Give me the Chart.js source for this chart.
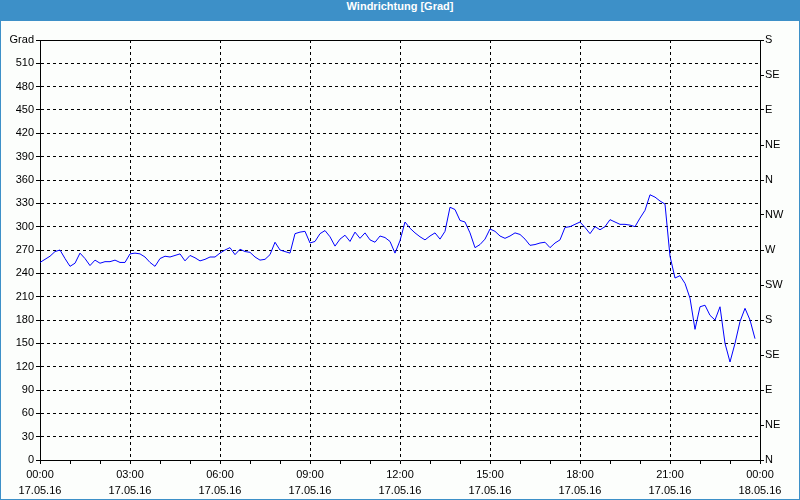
<!DOCTYPE html>
<html>
<head>
<meta charset="utf-8">
<script src="https://cdn.jsdelivr.net/npm/chart.js@4/dist/chart.umd.min.js"></script>
<style>
  html, body { margin: 0; padding: 0; background: #fff; }
  #frame { position: relative; width: 800px; height: 500px; background: #3d90c8; overflow: hidden; }
  #title { position: absolute; left: 0; top: 0; width: 800px; height: 21px; line-height: 20px; text-align: center;
           color: #fff; font: bold 11px "Liberation Sans", Arial, sans-serif; }
  #body { position: absolute; left: 1px; top: 21px; width: 798px; height: 478px; background: #fcfefc; }
  canvas { display: block; }
</style>
</head>
<body>
<div id="frame">
  <div id="title">Windrichtung [Grad]</div>
  <div id="body"><canvas id="c" width="798" height="478"></canvas></div>
</div>
<script>
// Sampling interval in minutes (one reading every 10 minutes from 17.05.16 00:00)
const intervalMinutes = 10;
// Wind direction readings [Grad]
const windDirection = [
  254, 258, 262, 268, 270, 259, 249, 253, 266, 259,
  250, 257, 253, 255, 255, 257, 254, 254, 265, 266,
  265, 261, 254, 249, 259, 262, 261, 263, 265, 256,
  263, 260, 256, 258, 261, 261, 266, 270, 273, 264,
  271, 268, 267, 261, 257, 258, 264, 280, 270, 268,
  266, 291, 293, 294, 279, 281, 291, 295, 287, 275,
  284, 289, 281, 293, 285, 292, 283, 280, 288, 286,
  281, 266, 282, 306, 298, 292, 287, 283, 288, 292,
  284, 294, 325, 322, 308, 306, 292, 273, 277, 284,
  297, 294, 288, 285, 288, 292, 290, 284, 276, 277,
  279, 280, 273, 279, 283, 299, 300, 303, 306, 299,
  291, 300, 296, 300, 309, 306, 303, 303, 302, 300,
  311, 321, 341, 338, 333, 329, 262, 234, 237, 227,
  208, 168, 197, 199, 186, 180, 197, 150, 126, 150,
  178, 195, 180, 156
];
// X axis tick labels (every 3 hours)
const timeLabels = ['00:00', '03:00', '06:00', '09:00', '12:00', '15:00', '18:00', '21:00', '00:00'];
const dateLabels = ['17.05.16', '17.05.16', '17.05.16', '17.05.16', '17.05.16', '17.05.16', '17.05.16', '17.05.16', '18.05.16'];
// Right axis compass labels (every 45 Grad from 0 to 540)
const compassLabels = ['N', 'NE', 'E', 'SE', 'S', 'SW', 'W', 'NW', 'N', 'NE', 'E', 'SE', 'S'];
const leftUnitLabel = 'Grad';

const points = windDirection.map((v, i) => ({ x: i * intervalMinutes, y: v }));
const FONT = { family: '"Liberation Sans Narrow", "Liberation Sans", Arial, sans-serif', size: 11 };
const XFONT = { family: '"Liberation Sans Narrow", "Liberation Sans", Arial, sans-serif', size: 11, lineHeight: 1.45 };

new Chart(document.getElementById('c'), {
  type: 'line',
  data: {
    datasets: [{
      data: points,
      borderColor: '#0000ff',
      borderWidth: 1,
      pointRadius: 0,
      tension: 0,
      fill: false
    }]
  },
  options: {
    responsive: false,
    animation: false,
    devicePixelRatio: 1,
    layout: { padding: { top: 19, left: 0, right: 0, bottom: 0 } },
    plugins: { legend: { display: false }, tooltip: { enabled: false }, title: { display: false } },
    scales: {
      x: {
        type: 'linear',
        min: 0, max: 1440,
        afterFit: s => { s.height = 39; },
        ticks: {
          stepSize: 60, autoSkip: false, maxRotation: 0, padding: 3,
          color: '#000', font: XFONT,
          callback: v => (v % 180 === 0) ? [timeLabels[v / 180], dateLabels[v / 180]] : ''
        },
        grid: {
          color: c => (c.tick && c.tick.value % 180 === 0 && c.tick.value > 0 && c.tick.value < 1440) ? '#000' : 'rgba(0,0,0,0)',
          tickColor: '#000', tickLength: 4, lineWidth: 1
        },
        border: { display: true, color: '#000', width: 1, dash: [3, 3] }
      },
      y: {
        position: 'left',
        min: 0, max: 540,
        afterFit: s => { s.width = 39; },
        ticks: {
          stepSize: 30, padding: 2, color: '#000', font: FONT,
          callback: v => v === 540 ? leftUnitLabel : String(v)
        },
        grid: {
          color: c => (c.tick && c.tick.value > 0) ? '#000' : 'rgba(0,0,0,0)',
          tickColor: '#000', tickLength: 4, lineWidth: 1
        },
        border: { display: true, color: '#000', width: 1, dash: c => (c.tick && c.tick.value === 540) ? [] : [3, 3] }
      },
      y2: {
        position: 'right',
        min: 0, max: 540,
        afterFit: s => { s.width = 39; },
        ticks: {
          stepSize: 45, padding: 1, color: '#000', font: FONT,
          callback: v => compassLabels[Math.round(v / 45)]
        },
        grid: { drawOnChartArea: false, tickColor: '#000', tickLength: 4 },
        border: { display: true, color: '#000', width: 1 }
      }
    }
  }
});
</script>
</body>
</html>
